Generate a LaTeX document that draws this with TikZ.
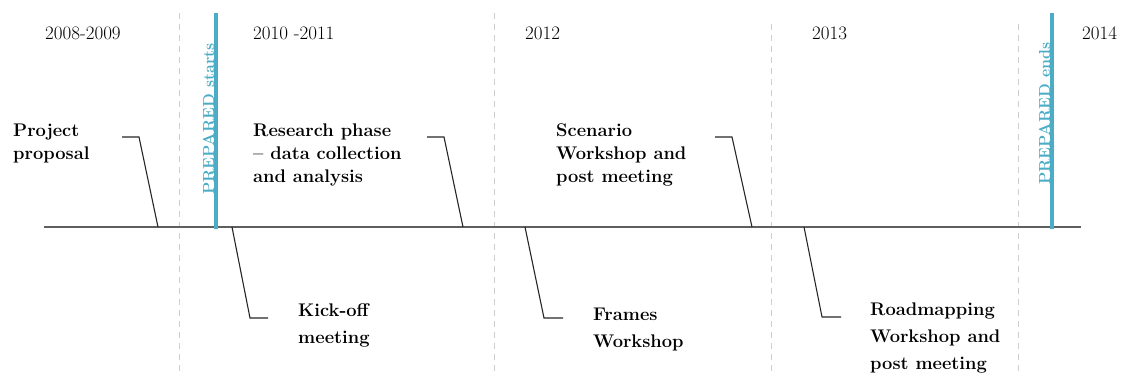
\documentclass[tikz,border=0pt]{standalone}
\usepackage{fontspec}
\definecolor{prepblue}{RGB}{75,172,198}
\definecolor{axisgray}{RGB}{95,95,95}
\definecolor{dashgray}{RGB}{205,205,205}
\begin{document}
\begin{tikzpicture}[x=1pt,y=-1pt,
  yearlbl/.style={anchor=base west, inner sep=0, font=\fontsize{19}{22}\selectfont},
  toplbl/.style={anchor=north west, inner sep=0, align=left, font=\fontsize{18.3}{23}\selectfont\bfseries},
  botlbl/.style={anchor=north west, inner sep=0, align=left, font=\fontsize{18.3}{27}\selectfont\bfseries},
  leader/.style={draw=black!85, line width=1.1pt},
  divider/.style={draw=dashgray, line width=1pt, dash pattern=on 6pt off 5pt},
  prepline/.style={draw=prepblue, line width=4pt},
  preplbl/.style={anchor=base west, inner sep=0, rotate=90, text=prepblue, font=\fontsize{16}{19}\selectfont\bfseries},
  axis/.style={draw=axisgray, line width=1.5pt}
]
\useasboundingbox (0,0) rectangle (1123,376);

% dividers
\draw[divider] (179,13) -- (179,376);
\draw[divider] (494,13) -- (494,376);
\draw[divider] (771,24) -- (771,376);
\draw[divider] (1018,24) -- (1018,376);

% timeline
\coordinate (t0) at (44,227);
\coordinate (t1) at (1081,227);
\draw[axis] (t0) -- (t1);

% project markers
\coordinate (ps0) at (216,13);
\coordinate (ps1) at (216,229);
\coordinate (pe0) at (1052,13);
\coordinate (pe1) at (1052,229);
\draw[prepline] (ps0) -- (ps1);
\draw[prepline] (pe0) -- (pe1);
\node[preplbl] (prepstart) at (214,195) {PREPARED starts};
\node[preplbl] (prepend) at (1050,185) {PREPARED ends};

% years
\node[yearlbl] (y1) at (45,39) {2008-2009};
\node[yearlbl] (y2) at (253,39) {2010 -2011};
\node[yearlbl] (y3) at (525,39) {2012};
\node[yearlbl] (y4) at (812,39) {2013};
\node[yearlbl] (y5) at (1082,39) {2014};

% labels
\node[toplbl] (proj) at (13,124) {Project\\proposal};
\node[toplbl] (res) at (253,124) {Research phase\\-- data collection\\and analysis};
\node[toplbl] (scen) at (556,124) {Scenario\\Workshop and\\post meeting};
\node[botlbl] (kick) at (298,303) {Kick-off\\meeting};
\node[botlbl] (frames) at (593,308) {Frames\\Workshop};
\node[botlbl] (road) at (870,303) {Roadmapping\\Workshop and\\post meeting};

% leaders
\coordinate (a1) at (158,227); \coordinate (b1) at (139,137); \coordinate (c1) at (122,137);
\coordinate (a2) at (463,227); \coordinate (b2) at (444,137); \coordinate (c2) at (427,137);
\coordinate (a3) at (752,227); \coordinate (b3) at (732,137); \coordinate (c3) at (715,137);
\coordinate (a4) at (232,227); \coordinate (b4) at (250,318); \coordinate (c4) at (268,318);
\coordinate (a5) at (525,227); \coordinate (b5) at (544,318); \coordinate (c5) at (563,318);
\coordinate (a6) at (804,227); \coordinate (b6) at (822,317); \coordinate (c6) at (841,317);
\draw[leader] (a1) -- (b1) -- (c1);
\draw[leader] (a2) -- (b2) -- (c2);
\draw[leader] (a3) -- (b3) -- (c3);
\draw[leader] (a4) -- (b4) -- (c4);
\draw[leader] (a5) -- (b5) -- (c5);
\draw[leader] (a6) -- (b6) -- (c6);
\end{tikzpicture}
\end{document}
